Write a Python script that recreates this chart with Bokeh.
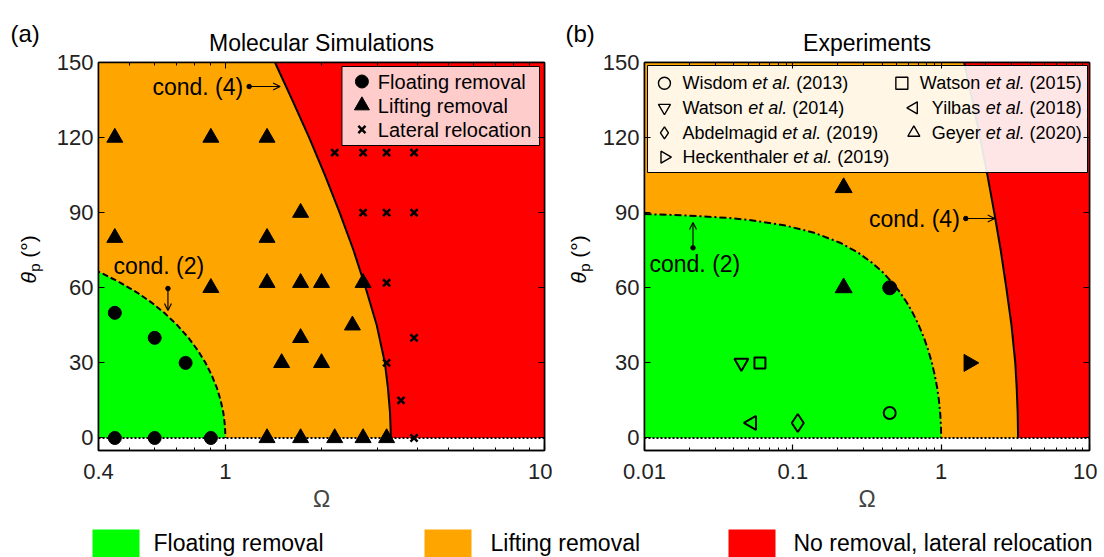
import math
from bokeh.plotting import figure
from bokeh.models import (Range1d, FixedTicker, CustomJSTickFormatter, LogAxis, LinearAxis,
                          Label, Arrow, OpenHead, Span)
from bokeh.layouts import column, row
from bokeh.embed import file_html
from bokeh.resources import INLINE

FONT = "Liberation Sans"
GREEN, ORANGE, RED = "#00FF00", "#FFA500", "#FF0000"

# ---------------- data ----------------
# regime boundary cond. (2): Omega vs theta_p
theta_c2 = [89.43, 89, 88, 87, 85, 82, 78, 74, 70, 66, 62, 58, 54, 50, 45, 40, 35, 30, 25, 20, 15, 10, 5, 0]
omega_c2 = [0.010, 0.0175, 0.0349, 0.0523, 0.0872, 0.139, 0.208, 0.276, 0.342, 0.407, 0.469, 0.530,
            0.588, 0.643, 0.707, 0.766, 0.819, 0.866, 0.906, 0.940, 0.966, 0.985, 0.996, 1.0]
# regime boundary cond. (4)
theta_c4 = [0, 10, 20, 30, 45, 60, 75, 90, 105, 120, 135, 150]
omega_c4 = [3.30, 3.28, 3.23, 3.16, 2.98, 2.75, 2.52, 2.28, 2.05, 1.83, 1.62, 1.43]

# (a) molecular simulations
float_om = [0.45, 0.6, 0.9, 0.45, 0.6, 0.75]
float_th = [0, 0, 0, 50, 40, 30]
lift_om = [0.45, 0.9, 1.35, 0.45, 1.35, 1.72, 0.9, 1.35, 1.72, 2.0, 2.7, 2.5, 1.72, 1.5, 2.0,
           1.35, 1.72, 2.2, 2.7, 3.2]
lift_th = [120, 120, 120, 80, 80, 90, 60, 62, 62, 62, 62, 45, 40, 30, 30, 0, 0, 0, 0, 0]
lat_om = [2.2, 2.7, 3.2, 3.9, 2.7, 3.2, 3.9, 3.2, 3.9, 3.2, 3.55, 3.9]
lat_th = [114, 114, 114, 114, 90, 90, 90, 62, 40, 30, 15, 0]

# (b) experiments
exp_filled_tri_om = [0.22, 0.22]
exp_filled_tri_th = [100, 60]
exp_filled_circ_om = [0.45]
exp_filled_circ_th = [60]
exp_filled_right_om = [1.54]
exp_filled_right_th = [30]
wisdom_om, wisdom_th = [0.45], [10]
watson14_om, watson14_th = [0.045], [30]
watson15_om, watson15_th = [0.060], [30]
yilbas_om, yilbas_th = [0.053], [6]
abdel_om, abdel_th = [0.108], [6]

ref_left = [("Wisdom", "(2013)", "circle", 0), ("Watson", "(2014)", "inverted_triangle", 0),
            ("Abdelmagid", "(2019)", "diamond", 0), ("Heckenthaler", "(2019)", "triangle", -math.pi / 2)]
ref_right = [("Watson", "(2015)", "square", 0), ("Yilbas", "(2018)", "triangle", math.pi / 2),
             ("Geyer", "(2020)", "triangle", 0)]

regime_names = ["Floating removal", "Lifting removal", "No removal, lateral relocation"]
regime_colors = [GREEN, ORANGE, RED]

# Arial / Liberation Sans advance widths (1/1000 em)
AW = {' ': 278, '(': 333, ')': 333, '.': 278, ',': 278, 'A': 667, 'G': 778, 'H': 722, 'W': 944,
      'Y': 667, 'F': 611, 'L': 556, 'a': 556, 'b': 556, 'c': 500, 'd': 556, 'e': 556, 'f': 278,
      'g': 556, 'h': 556, 'i': 222, 'k': 500, 'l': 222, 'm': 833, 'n': 556, 'o': 556, 'r': 333,
      's': 500, 't': 278, 'u': 556, 'v': 500, 'y': 500}
for d in "0123456789":
    AW[d] = 556


def tw(s, size):
    return sum(AW.get(c, 556) for c in s) * size / 1000.0


# page geometry (page px)
FT, FH = 62, 388   # frame top, frame height
BOT = 72           # bottom border of panels
PH = FT + FH + BOT # panel figure height (522)
YR = (-5, 150)
LB = 44            # panel left border (tick labels)


def blank_fig(w, h, **kw):
    f = figure(width=w, height=h, x_range=Range1d(0, w), output_backend="svg",
               toolbar_location=None, x_axis_type=None, y_axis_type=None,
               outline_line_color=None, **kw)
    f.grid.visible = False
    return f


def make_panel(xr, xticks, xminor, fl, fw, rb, title):
    p = figure(width=LB + fw + rb, height=PH, x_axis_type="log",
               x_range=Range1d(*xr), y_range=Range1d(*YR), output_backend="svg",
               toolbar_location=None, min_border_left=LB, min_border_right=rb,
               min_border_top=FT, min_border_bottom=BOT, title=title)
    p.title.align = "center"
    p.title.text_font = FONT
    p.title.text_font_size = "23px"
    p.title.text_font_style = "normal"
    p.title.text_color = "black"
    p.title.standoff = 14
    p.grid.visible = False
    p.outline_line_color = "black"
    p.outline_line_width = 1.5
    p.background_fill_color = "white"
    p.border_fill_color = "white"
    xt = FixedTicker(ticks=xticks, minor_ticks=xminor)
    yt = FixedTicker(ticks=[0, 30, 60, 90, 120, 150], minor_ticks=[])
    fmt = CustomJSTickFormatter(code="return String(tick);")
    xa = p.xaxis[0]
    xa.ticker = xt
    xa.formatter = fmt
    xa.axis_label = "Ω"
    ya = p.yaxis[0]
    ya.ticker = yt
    for ax in (xa, ya):
        ax.major_label_text_font = FONT
        ax.major_label_text_font_size = "22px"
        ax.major_label_text_color = "#222222"
        ax.major_tick_in = 6
        ax.major_tick_out = 0
        ax.minor_tick_in = 3
        ax.minor_tick_out = 0
        ax.axis_line_width = 1.5
        ax.major_tick_line_width = 1.2
        ax.minor_tick_line_width = 1.0
    xa.major_label_standoff = 13
    xa.axis_label_standoff = 4
    xa.axis_label_text_font = FONT
    xa.axis_label_text_font_size = "23px"
    xa.axis_label_text_font_style = "normal"
    ya.major_label_standoff = 5
    blank = CustomJSTickFormatter(code="return '';")
    top = LogAxis(ticker=xt, formatter=blank, major_label_text_font_size="2px",
                  major_label_standoff=0, major_tick_in=6, major_tick_out=0, minor_tick_in=3,
                  minor_tick_out=0, axis_line_width=1.5)
    right = LinearAxis(ticker=yt, formatter=blank, major_label_text_font_size="2px",
                       major_label_standoff=0, major_tick_in=6, major_tick_out=0, minor_tick_in=0,
                       minor_tick_out=0, axis_line_width=1.5)
    p.add_layout(top, "above")
    p.add_layout(right, "right")

    lx = math.log10(xr[1] / xr[0])

    def conv(px, py):
        return xr[0] * 10 ** ((px - fl) / fw * lx), YR[1] - (py - FT) / FH * (YR[1] - YR[0])

    # regimes
    p.quad(left=xr[0], right=xr[1], bottom=0, top=150, fill_color=ORANGE, line_color=None)
    p.patch(omega_c2 + [omega_c2[0]], theta_c2 + [0], fill_color=GREEN, line_color=None)
    p.patch(omega_c4 + [xr[1], xr[1]], theta_c4 + [150, 0], fill_color=RED, line_color=None)
    p.line(omega_c4, theta_c4, line_color="black", line_width=2)
    p.add_layout(Span(location=0, dimension="width", line_color="black", line_width=2,
                      line_dash="2 2"))
    return p, conv


def label(p, x, y, text, size, **kw):
    args = dict(x=x, y=y, text=text, text_font=FONT, text_font_size=size, text_color="black",
                text_baseline="middle")
    args.update(kw)
    p.add_layout(Label(**args))


def arrow(p, conv, x0, y0, x1, y1):
    a0 = conv(x0, y0)
    a1 = conv(x1, y1)
    p.add_layout(Arrow(x_start=a0[0], y_start=a0[1], x_end=a1[0], y_end=a1[1],
                       line_width=1.2, line_color="black",
                       end=OpenHead(size=7, line_width=1.2, line_color="black")))
    p.scatter([a0[0]], [a0[1]], size=4.5, color="black")


def side_strip(w, cx, letter, lx):
    # strip left of a panel: panel letter as its title, rotated y-axis label in its frame.
    # its frame is aligned with the panel frames (page y 62..450), so y data = page y
    f = blank_fig(w, PH, y_range=Range1d(FT + FH, FT), min_border_left=0, min_border_right=0,
                  min_border_top=FT, min_border_bottom=BOT, title=letter)
    f.title.align = "left"
    f.title.offset = lx
    f.title.standoff = 32
    f.title.text_font = FONT
    f.title.text_font_size = "24px"
    f.title.text_font_style = "normal"
    f.title.text_color = "black"
    y = 283
    label(f, cx, y, "θ", "21px", angle=math.pi / 2, text_font_style="italic", text_align="left")
    label(f, cx + 6, y - 11.7, "p", "15px", angle=math.pi / 2, text_align="left")
    label(f, cx, y - 25.8, "(°)", "21px", angle=math.pi / 2, text_align="left")
    return f


# ---------------- panel (a) ----------------
FLA, FWA = 97, 447
YLA_W = FLA - LB               # page 0 .. 53
pa, ca = make_panel((0.4, 10), [0.4, 1, 10],
                    [0.5, 0.6, 0.7, 0.8, 0.9, 2, 3, 4, 5, 6, 7, 8, 9], FLA, FWA, 8,
                    "Molecular Simulations")
pa.line(omega_c2, theta_c2, line_color="black", line_width=2, line_dash="6 3")
pa.scatter(float_om, float_th, marker="circle", size=13, color="black")
pa.scatter(lift_om, lift_th, marker="triangle", size=16, color="black")
pa.scatter(lat_om, lat_th, marker="x", size=10, line_color="black", line_width=2.5)

# legend (a)
l0 = ca(341, 145)
l1 = ca(539, 66)
pa.quad(left=l0[0], right=l1[0], bottom=l0[1], top=l1[1], fill_color="white", fill_alpha=0.8,
        line_color="black", line_width=1)
for (mk, sz, nm), py in zip([("circle", 13, "Floating removal"), ("triangle", 15, "Lifting removal"),
                             ("x", 10, "Lateral relocation")], [81, 105, 129]):
    mx, my = ca(361, py)
    if mk == "x":
        pa.scatter([mx], [my], marker="x", size=sz, line_color="black", line_width=2.5)
    else:
        pa.scatter([mx], [my], marker=mk, size=sz, color="black")
    tx, ty = ca(377, py)
    label(pa, tx, ty, nm, "20px")

tx, ty = ca(242, 86)
label(pa, tx, ty, "cond. (4)", "23px", text_align="right")
arrow(pa, ca, 248, 86, 279, 86)
tx, ty = ca(112, 265)
label(pa, tx, ty, "cond. (2)", "23px", text_align="left")
arrow(pa, ca, 166.6, 288, 166.6, 310)

# ---------------- panel (b) ----------------
FLB, FWB = 643, 446
PA_RIGHT = YLA_W + LB + FWA + 8      # 552
YLB_W = FLB - LB - PA_RIGHT          # strip width before panel (b)
minor_b = [0.02, 0.03, 0.04, 0.05, 0.06, 0.07, 0.08, 0.09, 0.2, 0.3, 0.4, 0.5, 0.6, 0.7, 0.8, 0.9,
           2, 3, 4, 5, 6, 7, 8, 9]
pb, cb = make_panel((0.01, 10), [0.01, 0.1, 1, 10], minor_b, FLB, FWB, 8, "Experiments")
pb.line(omega_c2, theta_c2, line_color="black", line_width=2, line_dash="7 3 2 3")
pb.scatter(exp_filled_tri_om, exp_filled_tri_th, marker="triangle", size=17, color="black")
pb.scatter(exp_filled_circ_om, exp_filled_circ_th, marker="circle", size=14, color="black")
pb.scatter(exp_filled_right_om, exp_filled_right_th, marker="triangle", angle=-math.pi / 2,
           size=17, color="black")
opn = dict(fill_color=None, line_color="black", line_width=2)
pb.scatter(wisdom_om, wisdom_th, marker="circle", size=12, **opn)
pb.scatter(watson14_om, watson14_th, marker="inverted_triangle", size=14, **opn)
pb.scatter(watson15_om, watson15_th, marker="square", size=11, **opn)
pb.scatter(yilbas_om, yilbas_th, marker="triangle", angle=math.pi / 2, size=14, **opn)
pb.scatter(abdel_om, abdel_th, marker="diamond", size=18, **opn)

# legend (b)
l0 = cb(646, 172)
l1 = cb(1087, 65)
pb.quad(left=l0[0], right=l1[0], bottom=l0[1], top=l1[1], fill_color="white", fill_alpha=0.9,
        line_color="black", line_width=1)
LS = 18
rows_y = [82.7, 107.3, 132.3, 156.7]


def ref_entry(name, year, mk, ang, tx0, py):
    mx, my = cb(tx0 - 18, py)
    pb.scatter([mx], [my], marker=mk, angle=ang, size=12, fill_color=None, line_color="black",
               line_width=1.4)
    x = tx0
    for seg, style in ((name, "normal"), ("et al.", "italic"), (year, "normal")):
        sx, sy = cb(x, py)
        label(pb, sx, sy, seg, "%dpx" % LS, text_font_style=style)
        x += tw(seg + " ", LS)


for (name, year, mk, ang), py in zip(ref_left, rows_y):
    ref_entry(name, year, mk, ang, 681, py)
for (name, year, mk, ang), py in zip(ref_right, rows_y):
    total = tw(name + " et al. " + year, LS)
    ref_entry(name, year, mk, ang, 1081 - total, py)

tx, ty = cb(959, 218)
label(pb, tx, ty, "cond. (4)", "23px", text_align="right")
arrow(pb, cb, 965, 218, 994, 218)
tx, ty = cb(648, 263)
label(pb, tx, ty, "cond. (2)", "23px", text_align="left")
arrow(pb, cb, 691.6, 247.3, 691.6, 222)

# ---------------- side strips (panel letters, y labels) ----------------
yla = side_strip(YLA_W, 28, "(a)", 10)
ylb = side_strip(YLB_W, 578 - PA_RIGHT, "(b)", 565 - PA_RIGHT)

# ---------------- bottom legend ----------------
LH = 557 - PH
pl = blank_fig(1104, LH, y_range=Range1d(0, LH), min_border=0)
sq_left = [92, 424, 728]
txt_left = [153, 490, 793]
for nm, col, sx, txx in zip(regime_names, regime_colors, sq_left, txt_left):
    pl.quad(left=sx, right=sx + 47, bottom=0, top=LH - 7, fill_color=col, line_color=None)
    label(pl, txx, LH - 20, nm, "23px")

layout = column(row(yla, pa, ylb, pb), pl)
open("out.html", "w").write(file_html(layout, INLINE))
